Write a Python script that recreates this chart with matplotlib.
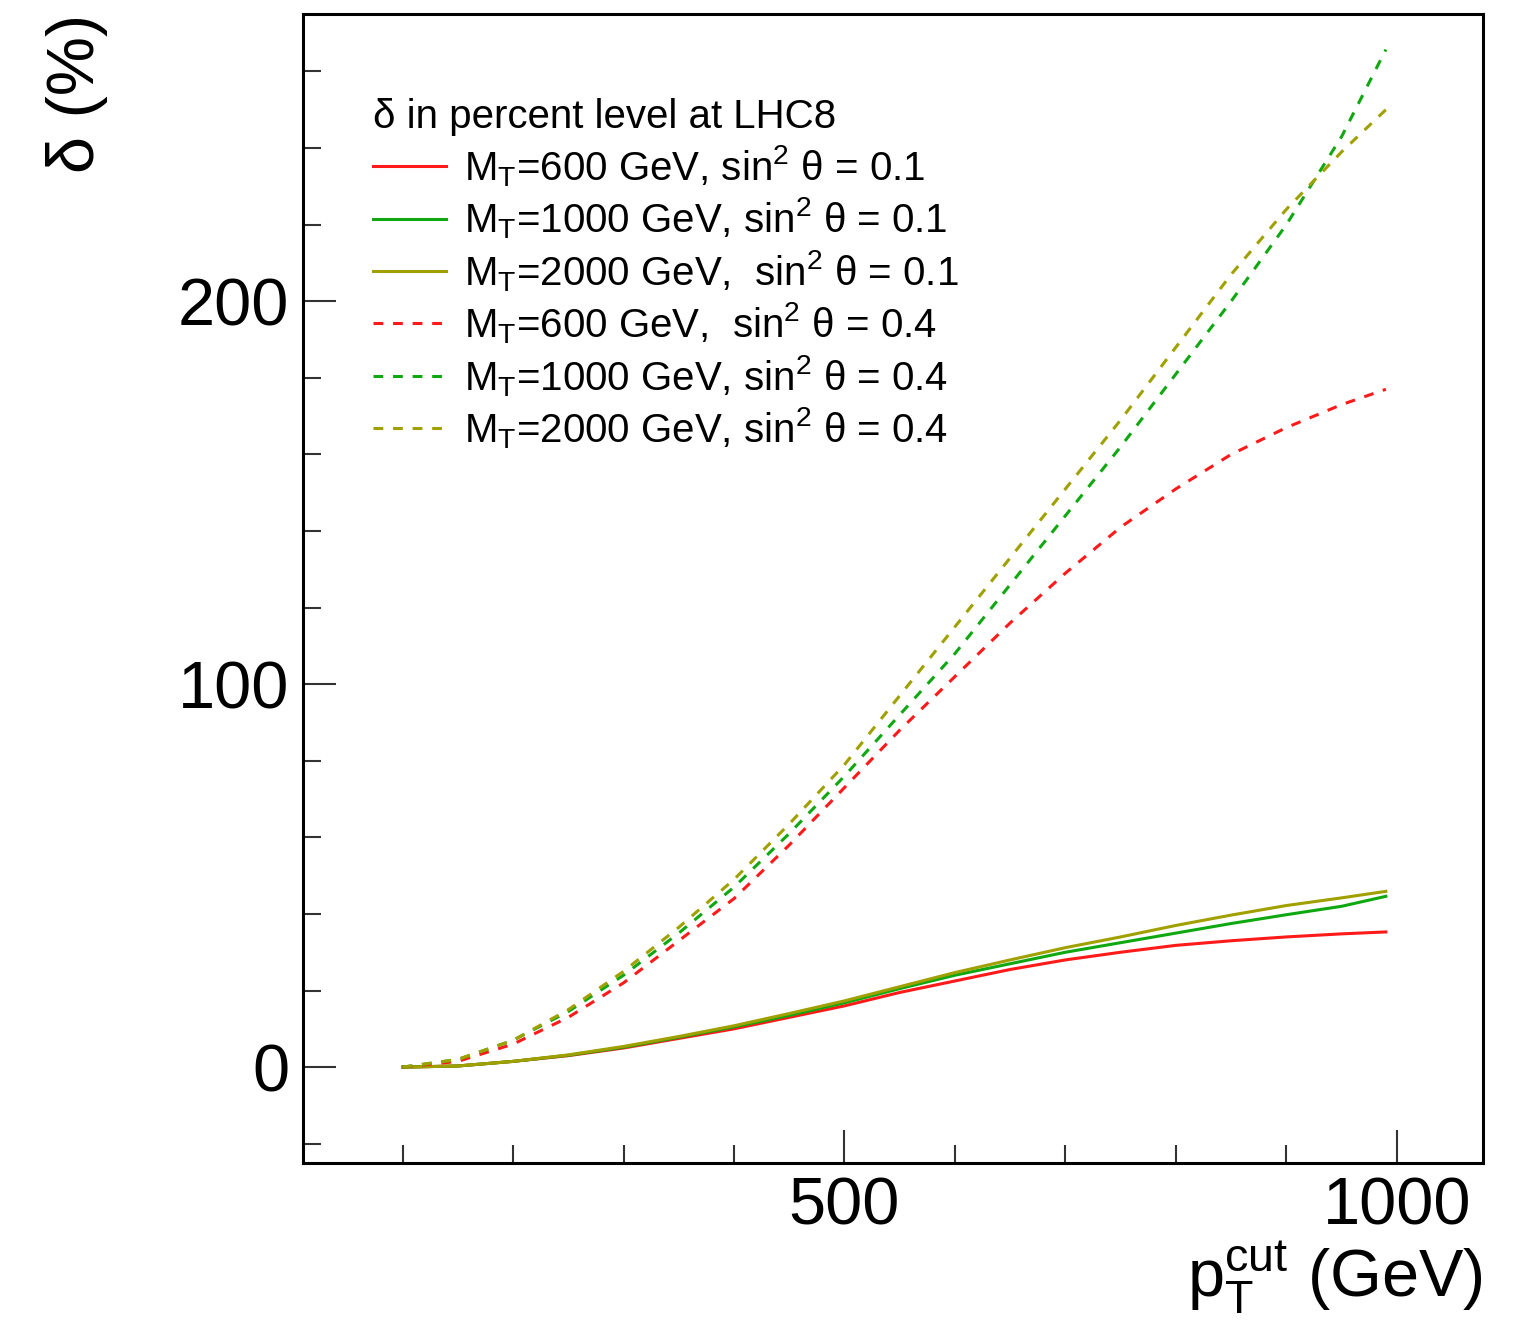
import matplotlib
matplotlib.use("Agg")
import matplotlib.pyplot as plt
from matplotlib.ticker import MultipleLocator

plt.rcParams['font.family'] = ['Liberation Sans', 'DejaVu Sans']
plt.rcParams['mathtext.fontset'] = 'custom'
plt.rcParams['mathtext.rm'] = 'Liberation Sans'
plt.rcParams['mathtext.it'] = 'Liberation Sans:italic'

# pT cut (GeV)
pt = [100, 150, 200, 250, 300, 350, 400, 450, 500, 550,
      600, 650, 700, 750, 800, 850, 900, 950, 990]

# sin^2 theta = 0.1
d600_01 = [0, 0.3, 1.5, 3.0, 5.0, 7.5, 10.0, 13.0, 16.0, 19.5,
           22.5, 25.5, 28.0, 30.0, 31.8, 33.0, 34.0, 34.8, 35.3]
d1000_01 = [0, 0.3, 1.5, 3.1, 5.2, 7.8, 10.5, 13.5, 16.8, 20.5,
            24.0, 27.0, 30.0, 32.5, 35.0, 37.5, 39.8, 42.0, 44.6]
d2000_01 = [0, 0.3, 1.5, 3.2, 5.4, 8.0, 10.8, 14.0, 17.3, 21.0,
            24.7, 28.0, 31.2, 34.0, 37.0, 39.7, 42.2, 44.2, 45.9]

# sin^2 theta = 0.4
d600_04 = [0, 1.5, 6, 13, 22, 33, 44, 58, 73, 88,
           102, 116, 129, 141, 151, 160, 167, 173, 177]
d1000_04 = [0, 2, 7, 14.5, 24, 35, 47, 61, 76, 92,
            108, 126, 144, 162, 181, 200, 220, 243, 265.7]
d2000_04 = [0, 2, 7, 15, 25, 36.5, 49, 63.5, 79, 97,
            115, 133, 151, 169, 188, 207, 224, 239, 250]

labels = [r"M$_\mathrm{T}$=600 GeV, sin$^\mathrm{2}$ θ = 0.1",
          r"M$_\mathrm{T}$=1000 GeV, sin$^\mathrm{2}$ θ = 0.1",
          r"M$_\mathrm{T}$=2000 GeV,  sin$^\mathrm{2}$ θ = 0.1",
          r"M$_\mathrm{T}$=600 GeV,  sin$^\mathrm{2}$ θ = 0.4",
          r"M$_\mathrm{T}$=1000 GeV, sin$^\mathrm{2}$ θ = 0.4",
          r"M$_\mathrm{T}$=2000 GeV, sin$^\mathrm{2}$ θ = 0.4"]

red = '#ff1a1a'
green = '#10a810'
olive = '#a0a000'

fig = plt.figure(figsize=(15.31, 13.29), dpi=100)
ax = fig.add_axes([0.198, 0.125, 0.7707, 0.8645])

lw = 2.2
dash = (0, (3.2, 3.2))
ax.plot(pt, d600_01, color=red, lw=lw, label=labels[0])
ax.plot(pt, d1000_01, color=green, lw=lw, label=labels[1])
ax.plot(pt, d2000_01, color=olive, lw=lw, label=labels[2])
ax.plot(pt, d600_04, color=red, lw=lw, ls=dash, label=labels[3])
ax.plot(pt, d1000_04, color=green, lw=lw, ls=dash, label=labels[4])
ax.plot(pt, d2000_04, color=olive, lw=lw, ls=dash, label=labels[5])

ax.set_xlim(10, 1078)
ax.set_ylim(-25, 275)

ax.xaxis.set_major_locator(MultipleLocator(500))
ax.xaxis.set_minor_locator(MultipleLocator(100))
ax.yaxis.set_major_locator(MultipleLocator(100))
ax.yaxis.set_minor_locator(MultipleLocator(20))
ax.tick_params(which='both', direction='in', top=False, right=False,
               width=1.5, color='#333333')
ax.tick_params(which='major', length=24, labelsize=48, pad=10)
ax.tick_params(which='minor', length=13)
for s in ax.spines.values():
    s.set_linewidth(2.2)

ax.set_ylabel("δ (%)", fontsize=48, loc='top', labelpad=50)
ax.set_xlabel(r"p$_\mathrm{T}^\mathrm{cut}$ (GeV)", fontsize=48, loc='right', labelpad=0)

leg = ax.legend(loc='upper left', bbox_to_anchor=(0.056, 0.93), frameon=False,
                fontsize=29, title="δ in percent level at LHC8", title_fontsize=29,
                alignment='left', handlelength=1.8, handletextpad=0.45,
                labelspacing=0.17, borderpad=0.1, borderaxespad=0)

fig.savefig('out.png', dpi=100)
